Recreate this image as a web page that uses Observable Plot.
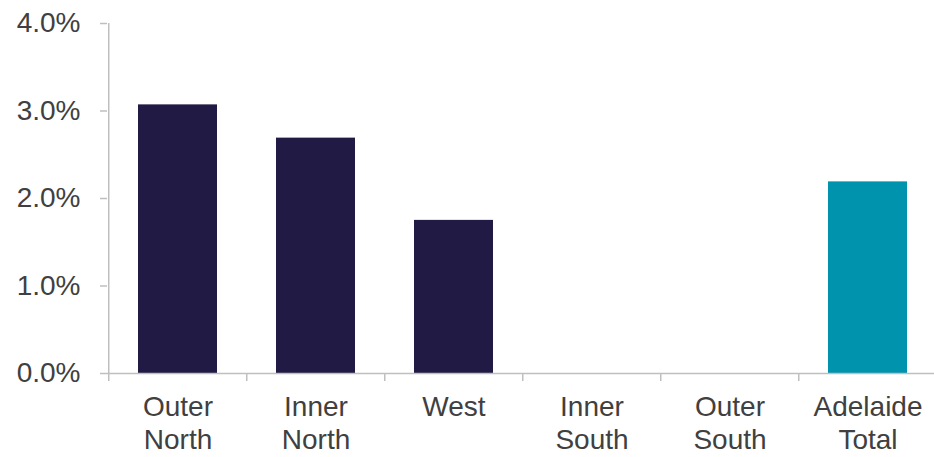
<!DOCTYPE html>
<html>
<head>
<meta charset="utf-8">
<script src="https://cdn.jsdelivr.net/npm/d3@7"></script>
<script src="https://cdn.jsdelivr.net/npm/@observablehq/plot@0.6"></script>
<style>
  html, body { margin: 0; padding: 0; background: #fff; }
  #chart { width: 934px; height: 457px; }
</style>
</head>
<body>
<div id="chart"></div>
<script>
const regions = ["Outer North", "Inner North", "West", "Inner South", "Outer South", "Adelaide Total"];
const labels = ["Outer\nNorth", "Inner\nNorth", "West", "Inner\nSouth", "Outer\nSouth", "Adelaide\nTotal"];
const values = [0.0307, 0.0269, 0.0175, 0, 0, 0.0219];
const barColors = ["#201a44", "#201a44", "#201a44", "#201a44", "#201a44", "#0093ad"];
const yTicks = [0, 0.01, 0.02, 0.03, 0.04];

const data = regions.map((r, i) => ({region: r, value: values[i], label: labels[i], color: barColors[i]}));

const left = 107, right = 938;
const half = (right - left) / regions.length / 2;
const axisColor = "#bfbfbf";
const textColor = "#404040";

const chart = Plot.plot({
  width: 934,
  height: 457,
  marginLeft: 107,
  marginRight: 0,
  marginTop: 23,
  marginBottom: 84,
  style: {fontFamily: "'Liberation Sans', Arial, sans-serif", background: "#fff"},
  x: {domain: regions, range: [left, right], paddingInner: 0.43, paddingOuter: 0.215, align: 0.5, axis: null},
  y: {domain: [0, 0.04], axis: null},
  marks: [
    Plot.barY(data, {x: "region", y: "value", fill: "color"}),
    Plot.ruleY([0], {stroke: axisColor, strokeWidth: 1.5}),
    Plot.ruleX([regions[0]], {dx: -half, stroke: axisColor, strokeWidth: 1.5}),
    Plot.axisX({tickSize: 8, dx: -half, stroke: axisColor, strokeWidth: 1.5, text: null, label: null}),
    Plot.axisY({ticks: yTicks, tickSize: 7, tickPadding: 20, stroke: axisColor, strokeWidth: 1.5,
      fill: textColor, fontSize: 28, label: null, tickFormat: d => (d * 100).toFixed(1) + "%"}),
    Plot.text(data, {x: "region", y: () => 0, text: "label", lineAnchor: "top", dy: 20,
      fontSize: 28, lineHeight: 1.15, fill: textColor})
  ]
});
document.getElementById("chart").appendChild(chart);
</script>
</body>
</html>
